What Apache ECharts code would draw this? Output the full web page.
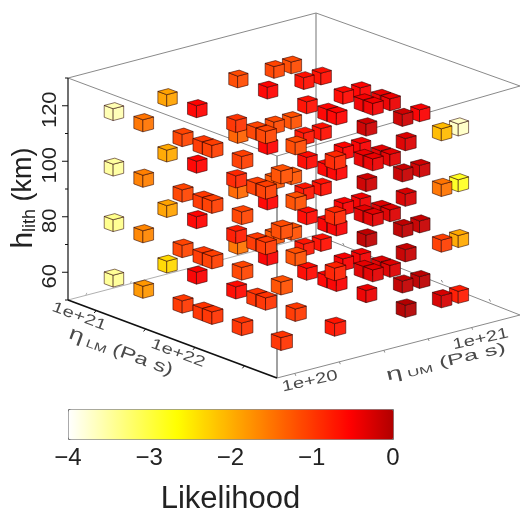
<!DOCTYPE html>
<html>
<head>
<meta charset="utf-8">
<style>html,body{margin:0;padding:0;background:#fff}#c{width:520px;height:516px;filter:blur(0.45px)}</style>
<script src="https://cdn.jsdelivr.net/npm/echarts@6/dist/echarts.min.js"></script>
</head>
<body>
<div id="c"></div>
<script>
// Values
const etaUM = [1e20, 2e20, 5e20, 8e20, 1e21];
const etaLM = [1e21, 2e21, 5e21, 8e21, 1e22, 2e22, 5e22];
const hLith = [60, 80, 100, 120];
// rows: etaLM, columns: etaUM
const like60 = [
  [-3.45,-2.35,-1.5,-1.25,-1.2],
  [-1.8,-0.5,-0.5,-0.7,-0.65],
  [-1,-0.6,-0.6,-0.5,-0.45],
  [-0.95,-0.95,-0.55,-0.35,-0.3],
  [-0.95,-0.95,-0.5,-0.35,-0.3],
  [-0.95,-1,-0.4,-0.12,-0.08],
  [-0.95,-0.7,-0.02,-0.25,-0.75]];
const like80 = [
  [-3.4,-1.9,-1.4,-1.25,-1.25],
  [-1.65,-0.55,-0.55,-0.7,-0.65],
  [-1.1,-0.75,-0.6,-0.5,-0.45],
  [-1,-1,-0.5,-0.35,-0.3],
  [-1.05,-1,-0.5,-0.35,-0.3],
  [-1.1,-1.2,-0.1,-0.1,-0.15],
  [-1.2,-0.8,-0.15,-1.05,-1.95]];
const like100 = [
  [-3.5,-1.95,-1.35,-1.15,-1.2],
  [-1.6,-0.55,-0.55,-0.7,-0.65],
  [-1.1,-0.85,-0.6,-0.55,-0.5],
  [-1,-1.05,-0.55,-0.4,-0.35],
  [-1.05,-1.05,-0.55,-0.4,-0.35],
  [-1.1,-1.2,-0.2,-0.15,-0.2],
  [-1.15,-0.85,-0.27,-1.5,-2.85]];
const like120 = [
  [-3.6,-1.9,-1.15,-1.1,-1.15],
  [-1.5,-0.55,-0.55,-0.65,-0.65],
  [-1.1,-0.95,-0.65,-0.6,-0.55],
  [-1,-1.1,-0.55,-0.45,-0.4],
  [-1.05,-1.1,-0.55,-0.45,-0.4],
  [-1.05,-1.15,-0.2,-0.2,-0.5],
  [-1.2,-0.85,-0.3,-2.1,-3.7]];
const layers = [like60, like80, like100, like120];
const heatColors = ['#ffffff','#ffffcc','#ffff99','#ffff66','#ffff33','#ffff00','#ffdf00','#ffbf00',
  '#ff9f00','#ff8000','#ff6000','#ff4000','#ff2000','#ff0000','#d80000','#b00000'];
const hTicks = [60, 80, 100, 120];
const hMinor = [50, 70, 90, 110, 130];
const lmTicks = [21, 22];
const lmMinor = [21.5, 22.5];
const umTicks = [20, 21];
const umMinor = [20.25, 20.5, 20.75];

// Scales of the oblique box
const lmDom = [20.715, 22.83], umDom = [19.9, 21.293], hDom = [50, 130];
const P0 = [68, 300], EP = [209, 78], EQ = [248, -65], HPX = 222;
const pOf = l => (l - lmDom[0]) / (lmDom[1] - lmDom[0]);
const qOf = u => (u - umDom[0]) / (umDom[1] - umDom[0]);
const rOf = h => (h - hDom[0]) / (hDom[1] - hDom[0]);
function proj(p, q, r) {
  const w = Math.pow(p * q, 6);
  return [P0[0] + p * EP[0] + q * EQ[0] - 5 * w,
          P0[1] + p * EP[1] + q * EQ[1] - r * HPX + w * (2 - 7 * r)];
}

// Data rows: log10 etaUM, log10 etaLM, h, likelihood
const rows = [];
hLith.forEach((h, k) => etaLM.forEach((lm, i) => etaUM.forEach((um, j) => {
  rows.push([Math.log10(um), Math.log10(lm), h, layers[k][i][j]]);
})));
rows.sort((a, b) => (a[2] - b[2]) || ((pOf(a[1]) - qOf(a[0])) - (pOf(b[1]) - qOf(b[0]))));

function renderCube(params, api) {
  const p = pOf(api.value(1)), q = qOf(api.value(0)), r = rOf(api.value(2));
  const c = api.visual('color');
  const s = 1.06 * (1 + 0.12 * p * (1 - q));
  const a = 0.0198 * s, b = 0.0198 * s, d = 0.0248 * s;
  const v = (sp, sq, sr) => proj(p + sp * a, q + sq * b, r + sr * d);
  const edge = 'rgba(40,0,0,0.62)';
  const st = f => ({ fill: f, stroke: edge, lineWidth: 0.9, lineJoin: 'round' });
  const top = [v(-1,1,1), v(1,1,1), v(1,-1,1), v(-1,-1,1)];
  const left = [v(-1,-1,1), v(1,-1,1), v(1,-1,-1), v(-1,-1,-1)];
  const right = [v(1,-1,1), v(1,1,1), v(1,1,-1), v(1,-1,-1)];
  return { type: 'group', children: [
    { type: 'polygon', shape: { points: left }, style: st(echarts.color.lift(c, 0.03)) },
    { type: 'polygon', shape: { points: right }, style: st(echarts.color.lift(c, 0.07)) },
    { type: 'polygon', shape: { points: top }, style: st(c) }
  ]};
}

function line(a, b, stroke, w) {
  return { type: 'line', shape: { x1: a[0], y1: a[1], x2: b[0], y2: b[1] }, style: { stroke, lineWidth: w } };
}
function label(text, x, y, rot, sx, color, font, rich) {
  return { type: 'text', x, y, rotation: rot, scaleX: sx, scaleY: 1,
    style: { text, fill: color, font, align: 'center', verticalAlign: 'middle', rich } };
}
function renderFrame() {
  const gray = '#8a8a8a';
  const L = [0,0], F = [1,0], B = [0,1], R = [1,1];
  const at = (c, r) => proj(c[0], c[1], r);
  const els = [
    line(at(L,0), at(B,0), '#b0b0b0', 1),
    line(at(B,0), at(R,0), gray, 1),
    line(at(F,0), at(R,0), gray, 1),
    line(at(B,0), at(B,1), gray, 1.2),
    line(at(F,0), at(F,1), gray, 1.6),
    line(at(L,1), at(B,1), gray, 1),
    line(at(B,1), at(R,1), gray, 1),
    line(at(R,1), at(F,1), gray, 1),
    line(at(F,1), at(L,1), gray, 1),
    line(at(L,0), at(L,1), '#111', 1.2),
    line(at(L,0), at(F,0), '#111', 1.8)
  ];
  hTicks.forEach(h => {
    const a = proj(0, 0, rOf(h));
    els.push(line(a, [a[0] - 6, a[1]], '#111', 1));
    els.push(label(String(h), a[0] - 18, a[1] + 4, Math.PI / 2, 1.1, '#222', '20px "Liberation Sans"'));
  });
  hMinor.forEach(h => {
    const a = proj(0, 0, rOf(h));
    els.push(line(a, [a[0] - 3, a[1]], '#111', 1));
  });
  [...lmTicks, ...lmMinor].forEach(l => {
    const a = proj(pOf(l), 0, 0);
    els.push(line(a, [a[0] - 2, a[1] + 2.5], '#111', 1));
    const b = proj(pOf(l), 1, 0);
    els.push(line(b, [b[0] - 1.5, b[1] - 2.5], gray, 1));
  });
  [...umTicks, ...umMinor].forEach(u => {
    const a = proj(1, qOf(u), 0);
    els.push(line(a, [a[0] + 1, a[1] + 2.5], gray, 1));
    const b = proj(0, qOf(u), 0);
    els.push(line(b, [b[0] + 1, b[1] - 2.5], '#b0b0b0', 1));
  });
  const rotLM = -Math.atan2(EP[1], EP[0]), rotUM = -Math.atan2(EQ[1], EQ[0]);
  const tc = '#4a4a4a';
  lmTicks.forEach(l => {
    const a = proj(pOf(l), 0, 0);
    els.push(label('1e+' + l, a[0] - 17, a[1] + 6, rotLM, 1.35, tc, '15px "Liberation Sans"'));
  });
  umTicks.forEach(u => {
    const a = proj(1, qOf(u), 0);
    els.push(label('1e+' + u, a[0] + 15 - 6 * (u - 20), a[1] + 8 + 4 * (u - 20), rotUM * 0.85, 1.35, tc, '15px "Liberation Sans"'));
  });
  els.push(label('{e|\u03b7}{s| LM} {u|(Pa s)}', 121, 352, rotLM, 1.4, tc, '15px "Liberation Sans"', {
    e: { fontSize: 19, fill: tc, fontFamily: 'Liberation Sans' },
    s: { fontSize: 11, fill: tc, fontFamily: 'Liberation Sans', verticalAlign: 'bottom' },
    u: { fontSize: 17, fill: tc, fontFamily: 'Liberation Sans' } }));
  els.push(label('{e|\u03b7}{s| UM} {u|(Pa s)}', 446, 362, rotUM * 0.9, 1.7, tc, '15px "Liberation Sans"', {
    e: { fontSize: 17, fill: tc, fontFamily: 'Liberation Sans' },
    s: { fontSize: 10, fill: tc, fontFamily: 'Liberation Sans', verticalAlign: 'bottom' },
    u: { fontSize: 15, fill: tc, fontFamily: 'Liberation Sans' } }));
  els.push(label('{h|h}{s|lith}{k| (km)}', 24, 198, Math.PI / 2, 1, '#222', '27px "Liberation Sans"', {
    h: { fontSize: 30, fill: '#222', fontFamily: 'Liberation Sans' },
    s: { fontSize: 18, fill: '#222', fontFamily: 'Liberation Sans', verticalAlign: 'bottom' },
    k: { fontSize: 27, fill: '#222', fontFamily: 'Liberation Sans' } }));
  return { type: 'group', children: els };
}

const chart = echarts.init(document.getElementById('c'), null, { renderer: 'canvas' });
chart.setOption({
  animation: false,
  backgroundColor: '#fff',
  grid: { left: 68, top: 409, width: 325, height: 30 },
  xAxis: {
    type: 'value', min: -4, max: 0, interval: 1, position: 'bottom',
    splitLine: { show: false },
    axisLine: { show: false },
    axisTick: { show: true, length: 6, lineStyle: { color: '#444', width: 1 } },
    axisLabel: { fontSize: 24, margin: 16, color: '#222', fontFamily: 'Liberation Sans',
      showMinLabel: true, showMaxLabel: true, hideOverlap: false,
      formatter: v => String(v).replace('-', '\u2212') },
    name: 'Likelihood', nameLocation: 'middle', nameGap: 54,
    nameTextStyle: { fontSize: 31, color: '#222', fontFamily: 'Liberation Sans' }
  },
  yAxis: { type: 'value', show: false, min: 0, max: 1 },
  visualMap: {
    type: 'continuous', show: true, seriesIndex: 1, dimension: 3,
    min: -4, max: 0, orient: 'horizontal', left: 68, top: 409,
    itemWidth: 30, itemHeight: 325, padding: 0, calculable: false, realtime: false,
    showLabel: false, text: null, hoverLink: false,
    borderColor: '#777', borderWidth: 1,
    inRange: { color: heatColors }
  },
  series: [
    { type: 'custom', coordinateSystem: 'none', silent: true, z: 1, data: [[0]], renderItem: renderFrame, clip: false },
    { type: 'custom', coordinateSystem: 'none', silent: true, z: 2, data: rows,
      dimensions: ['logUM', 'logLM', 'h', 'like'], encode: { value: [0, 1, 2, 3] }, renderItem: renderCube, clip: false }
  ]
});
</script>
</body>
</html>
